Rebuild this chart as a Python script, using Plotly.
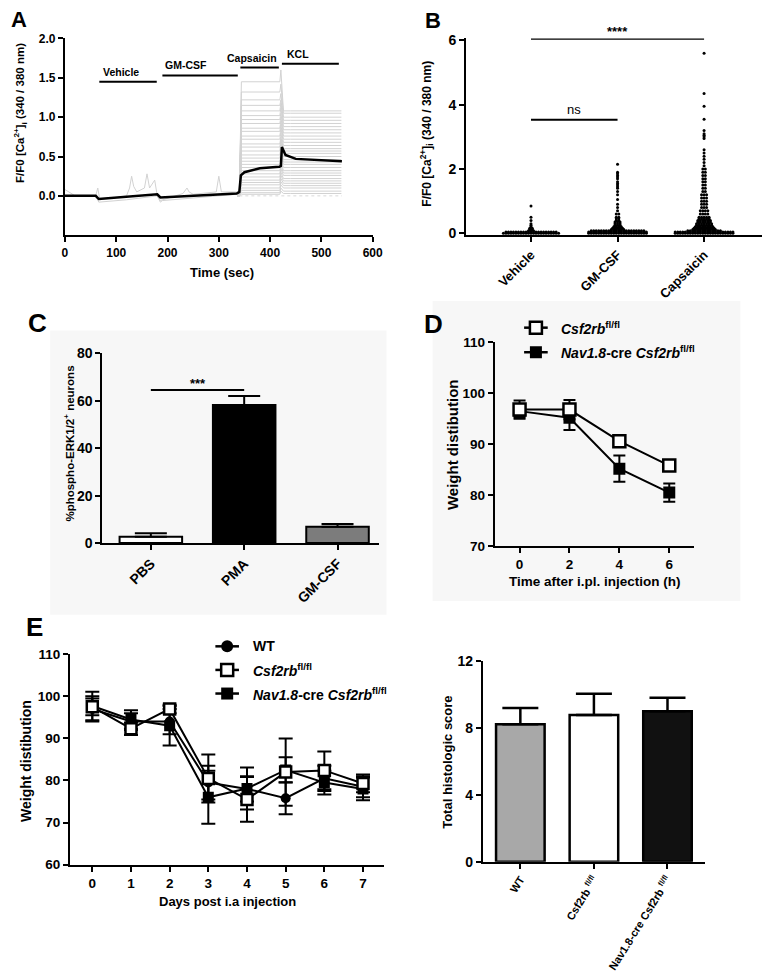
import plotly.graph_objects as go

W, H = 775, 973
FONT = "Liberation Sans"

# ---------------- Panel A : calcium traces ----------------
a_mean_t = [0, 60, 66, 120, 180, 186, 250, 335, 340, 343, 350, 380, 418, 421, 423, 430, 450, 500, 540]
a_mean_v = [0.0, 0.0, -0.04, -0.01, 0.02, -0.02, 0.0, 0.03, 0.05, 0.26, 0.30, 0.35, 0.37, 0.38, 0.62, 0.52, 0.47, 0.45, 0.44]
a_cap_levels = [1.45, 1.32, 1.22, 1.15, 1.08, 1.02, 0.97, 0.92, 0.86, 0.82, 0.76, 0.72, 0.66, 0.62, 0.57,
                0.52, 0.48, 0.44, 0.40, 0.36, 0.32, 0.28, 0.24, 0.20, 0.17, 0.14, 0.10, 0.07, 0.04, 0.02]
a_kcl_peak = [1.60, 1.42, 1.30, 1.22, 1.18, 1.12, 1.05, 1.00, 0.95, 0.90, 0.86, 0.80, 0.75, 0.72, 0.68,
              0.62, 0.58, 0.54, 0.50, 0.46, 0.42, 0.38, 0.34, 0.30, 0.26, 0.22, 0.18, 0.14, 0.10, 0.06]
a_kcl_levels = [1.08, 1.05, 1.00, 0.96, 0.92, 0.88, 0.84, 0.80, 0.76, 0.72, 0.68, 0.64, 0.60, 0.57, 0.54,
                0.50, 0.46, 0.43, 0.40, 0.36, 0.32, 0.29, 0.26, 0.22, 0.19, 0.16, 0.13, 0.10, 0.06, 0.03]
a_noise_t = [0, 20, 60, 64, 68, 120, 126, 130, 134, 140, 155, 160, 165, 170, 175, 180, 186, 230, 238, 242,
             250, 295, 300, 305, 335]
a_noise_v = [0.08, 0.0, 0.0, 0.10, -0.05, 0.0, 0.10, 0.25, 0.12, 0.05, 0.10, 0.28, 0.10, 0.15, 0.20, 0.0,
             -0.06, 0.03, 0.10, 0.05, 0.02, 0.05, 0.25, 0.05, 0.05]
a_dip_t = [60, 66, 120, 180, 186, 190, 335]
a_dip_v = [0.0, -0.08, -0.05, 0.0, -0.08, -0.06, 0.02]
a_stim_names = ["Vehicle", "GM-CSF", "Capsaicin", "KCL"]
a_stim_start = [67, 190, 342, 423]
a_stim_end = [179, 337, 417, 534]
a_stim_y = [1.45, 1.53, 1.63, 1.68]

# ---------------- Panel B : swarm ----------------
b_cats = ["Vehicle", "GM-CSF", "Capsaicin"]
b_veh_vals = [0.0, 0.04, 0.08, 0.12, 0.16, 0.20, 0.25, 0.30, 0.40, 0.50, 0.85]
b_veh_counts = [23, 21, 3, 2, 2, 1, 1, 1, 1, 1, 1]
b_gm_vals = [0.0, 0.04, 0.08, 0.12, 0.16, 0.20, 0.25, 0.30, 0.35, 0.40, 0.45, 0.50, 0.60, 0.70, 0.80,
             0.90, 1.05, 1.20, 1.30, 1.40, 1.45, 1.50, 1.55, 1.60, 1.70, 1.75, 1.80, 1.85, 1.90, 2.15]
b_gm_counts = [24, 24, 22, 6, 5, 4, 3, 3, 3, 2, 2, 2, 2, 1, 1, 1, 1, 1, 1, 1, 1, 1, 1, 1, 1, 1, 1, 1, 1, 1]
b_cap_vals = [0.0, 0.04, 0.08, 0.12, 0.16, 0.20, 0.25, 0.30, 0.35, 0.40, 0.45, 0.50, 0.60, 0.70, 0.80,
              0.90, 1.00, 1.10, 1.20, 1.30, 1.40, 1.50, 1.60, 1.70, 1.80, 1.90, 2.00, 2.10, 2.20, 2.30,
              2.40, 2.50, 2.60, 2.95, 3.00, 3.05, 3.10, 3.20, 3.55, 3.95, 4.35, 5.60]
b_cap_counts = [24, 24, 14, 10, 9, 8, 7, 7, 6, 6, 5, 5, 4, 4, 3, 3, 3, 3, 3, 2, 2, 2, 2, 2, 2, 2, 2,
                1, 1, 1, 1, 1, 1, 1, 1, 1, 1, 1, 1, 1, 1, 1]
b_sig_ns_y = 3.53
b_sig_all_y = 6.05

# ---------------- Panel C : bars ----------------
c_cats = ["PBS", "PMA", "GM-CSF"]
c_means = [2.7, 58.2, 6.9]
c_sem = [1.4, 3.8, 1.1]
c_sig_y = 64.5

# ---------------- Panel D ----------------
d_hours = [0, 2, 4, 6]
d_csf = [96.8, 96.8, 90.6, 85.8]
d_csf_err = [1.8, 1.9, 0.9, 0.9]
d_nav = [96.5, 95.2, 85.2, 80.5]
d_nav_err = [1.2, 2.4, 2.6, 1.8]

# ---------------- Panel E left ----------------
e_days = [0, 1, 2, 3, 4, 5, 6, 7]
e_wt = [97.0, 94.0, 94.0, 79.5, 78.0, 75.8, 80.5, 78.5]
e_wt_err = [3.0, 2.0, 3.0, 4.0, 3.0, 3.8, 3.0, 2.5]
e_csf = [97.5, 92.3, 97.0, 80.5, 75.5, 82.0, 82.4, 79.3]
e_csf_err = [2.0, 1.5, 1.0, 5.7, 5.3, 8.0, 4.5, 2.1]
e_nav = [97.7, 94.5, 93.0, 76.0, 78.1, 82.5, 79.5, 78.0]
e_nav_err = [3.4, 2.2, 4.7, 6.3, 5.0, 3.0, 2.8, 2.7]

# ---------------- Panel E right ----------------
f_cats = ["WT", "Csf2rb <sup>fl/fl</sup>", "Nav1.8-cre Csf2rb <sup>fl/fl</sup>"]
f_means = [8.22, 8.77, 9.0]
f_sem = [0.98, 1.28, 0.8]

# ======================================================================
fig = go.Figure()

def xdom(x0, x1):
    return [x0 / W, x1 / W]

def ydom(ytop, ybot):
    return [1 - ybot / H, 1 - ytop / H]

def tf(size):
    return dict(family=FONT, size=size, color="black", weight="bold")

def axis(**kw):
    d = dict(showline=True, linecolor="black", linewidth=2, ticks="outside", ticklen=5,
             tickwidth=2, tickcolor="black", showgrid=False, zeroline=False, fixedrange=True)
    d.update(kw)
    return d

# ---- Panel A traces
for cap, pk, kcl in zip(a_cap_levels, a_kcl_peak, a_kcl_levels):
    fig.add_trace(go.Scatter(
        x=[336, 340, 344, 360, 416, 419, 421, 426, 440, 539],
        y=[0.0, 0.0, cap, cap, cap, cap, pk, kcl, kcl, kcl],
        mode="lines", line=dict(color="#d2d2d2", width=1), xaxis="x", yaxis="y",
        hoverinfo="skip", showlegend=False))
fig.add_trace(go.Scatter(x=a_noise_t, y=a_noise_v, mode="lines", line=dict(color="#d2d2d2", width=1),
                         xaxis="x", yaxis="y", hoverinfo="skip", showlegend=False))
fig.add_trace(go.Scatter(x=a_dip_t, y=a_dip_v, mode="lines", line=dict(color="#d2d2d2", width=1),
                         xaxis="x", yaxis="y", hoverinfo="skip", showlegend=False))
fig.add_trace(go.Scatter(x=[340, 540], y=[0, 0], mode="lines", line=dict(color="#d8d8d8", width=1, dash="dot"),
                         xaxis="x", yaxis="y", hoverinfo="skip", showlegend=False))
fig.add_trace(go.Scatter(x=a_mean_t, y=a_mean_v, mode="lines", line=dict(color="black", width=2.5),
                         xaxis="x", yaxis="y", showlegend=False))
for nm, s, e, yv in zip(a_stim_names, a_stim_start, a_stim_end, a_stim_y):
    fig.add_trace(go.Scatter(x=[s, e], y=[yv, yv], mode="lines", line=dict(color="black", width=2),
                             xaxis="x", yaxis="y", showlegend=False, hoverinfo="skip"))
a_label_x = [70, 192, 417, 430]
a_label_anchor = ["left", "left", "right", "left"]
for nm, lx, anc, yv in zip(a_stim_names, a_label_x, a_label_anchor, a_stim_y):
    fig.add_annotation(x=lx, y=yv, xref="x", yref="y", text=nm, showarrow=False, xanchor=anc,
                       yanchor="bottom", yshift=2, font=tf(10.5))

# ---- Panel B swarm
def swarm(center, vals, counts, d):
    xs, ys = [], []
    for v, n in zip(vals, counts):
        for i in range(n):
            xs.append(center + (i - (n - 1) / 2) * d)
            ys.append(v)
    return xs, ys

for ci, (vals, cnts) in enumerate([(b_veh_vals, b_veh_counts), (b_gm_vals, b_gm_counts),
                                    (b_cap_vals, b_cap_counts)]):
    xs, ys = swarm(ci, vals, cnts, 0.029)
    fig.add_trace(go.Scatter(x=xs, y=ys, mode="markers", marker=dict(color="black", size=3),
                             xaxis="x2", yaxis="y2", showlegend=False, cliponaxis=False))
fig.add_trace(go.Scatter(x=[0, 1], y=[b_sig_ns_y] * 2, mode="lines", line=dict(color="black", width=2),
                         xaxis="x2", yaxis="y2", showlegend=False, hoverinfo="skip"))
fig.add_trace(go.Scatter(x=[0, 2], y=[b_sig_all_y] * 2, mode="lines", line=dict(color="black", width=2),
                         xaxis="x2", yaxis="y2", showlegend=False, hoverinfo="skip", cliponaxis=False))
fig.add_annotation(x=0.5, y=b_sig_ns_y, xref="x2", yref="y2", text="ns", showarrow=False,
                   yanchor="bottom", yshift=1, font=dict(family=FONT, size=13, color="black"))
fig.add_annotation(x=1, y=b_sig_all_y, xref="x2", yref="y2", text="****", showarrow=False,
                   yanchor="bottom", yshift=-2, font=tf(13))

# ---- Panel C bars
fig.add_trace(go.Bar(x=[0, 1, 2], y=c_means, width=0.67,
                     marker=dict(color=["white", "black", "#7c7c7c"], line=dict(color="black", width=2)),
                     error_y=dict(type="data", array=c_sem, arrayminus=[0, 0, 0], symmetric=False,
                                  color="black", thickness=2, width=16),
                     xaxis="x3", yaxis="y3", showlegend=False))
fig.add_trace(go.Scatter(x=[0, 1], y=[c_sig_y] * 2, mode="lines", line=dict(color="black", width=2),
                         xaxis="x3", yaxis="y3", showlegend=False, hoverinfo="skip"))
fig.add_annotation(x=0.5, y=c_sig_y, xref="x3", yref="y3", text="***", showarrow=False,
                   yanchor="bottom", yshift=-3, font=tf(13))

# ---- Panel D
fig.add_trace(go.Scatter(x=d_hours, y=d_nav, mode="lines+markers",
                         line=dict(color="black", width=2),
                         marker=dict(symbol="square", size=12, color="black"),
                         error_y=dict(type="data", array=d_nav_err, color="black", thickness=2, width=6),
                         xaxis="x4", yaxis="y4", showlegend=False))
fig.add_trace(go.Scatter(x=d_hours, y=d_csf, mode="lines+markers",
                         line=dict(color="black", width=2),
                         marker=dict(symbol="square", size=12, color="white", line=dict(color="black", width=2.5)),
                         error_y=dict(type="data", array=d_csf_err, color="black", thickness=2, width=6),
                         xaxis="x4", yaxis="y4", showlegend=False))

# ---- Panel E left
fig.add_trace(go.Scatter(x=e_days, y=e_wt, mode="lines+markers", line=dict(color="black", width=2),
                         marker=dict(symbol="circle", size=10, color="black"),
                         error_y=dict(type="data", array=e_wt_err, color="black", thickness=2, width=7),
                         xaxis="x5", yaxis="y5", showlegend=False))
fig.add_trace(go.Scatter(x=e_days, y=e_nav, mode="lines+markers", line=dict(color="black", width=2),
                         marker=dict(symbol="square", size=11, color="black"),
                         error_y=dict(type="data", array=e_nav_err, color="black", thickness=2, width=7),
                         xaxis="x5", yaxis="y5", showlegend=False))
fig.add_trace(go.Scatter(x=e_days, y=e_csf, mode="lines+markers", line=dict(color="black", width=2),
                         marker=dict(symbol="square", size=11, color="white", line=dict(color="black", width=2.5)),
                         error_y=dict(type="data", array=e_csf_err, color="black", thickness=2, width=7),
                         xaxis="x5", yaxis="y5", showlegend=False))

# ---- Panel E right
fig.add_trace(go.Bar(x=[0, 1, 2], y=f_means, width=0.66,
                     marker=dict(color=["#a8a8a8", "white", "#111111"], line=dict(color="black", width=2.5)),
                     error_y=dict(type="data", array=f_sem, arrayminus=[0, 0, 0], symmetric=False,
                                  color="black", thickness=2.5, width=18),
                     xaxis="x6", yaxis="y6", showlegend=False))

# ---- overlay (pixel space) legends
def legend_item(xc, y, symbol, fill, seg):
    fig.add_trace(go.Scatter(x=[xc - seg, xc + seg], y=[y, y], mode="lines",
                             line=dict(color="black", width=2.5), xaxis="x7", yaxis="y7",
                             showlegend=False, hoverinfo="skip"))
    mk = dict(symbol=symbol, size=12, color=fill)
    if fill == "white":
        mk["line"] = dict(color="black", width=2.5)
    fig.add_trace(go.Scatter(x=[xc], y=[y], mode="markers", marker=mk, xaxis="x7", yaxis="y7",
                             showlegend=False, hoverinfo="skip"))

legend_item(542, 325, "square", "white", 12)
legend_item(542, 350, "square", "black", 12)
fig.add_annotation(x=565, y=325, xref="x7", yref="y7", text="<i>Csf2rb</i><sup>fl/fl</sup>",
                   showarrow=False, xanchor="left", font=tf(14))
fig.add_annotation(x=565, y=350, xref="x7", yref="y7", text="<i>Nav1.8</i>-cre <i>Csf2rb</i><sup>fl/fl</sup>",
                   showarrow=False, xanchor="left", font=tf(14))

legend_item(228, 649, "circle", "black", 12)
legend_item(228, 673, "square", "white", 12)
legend_item(228, 697, "square", "black", 12)
fig.add_annotation(x=252, y=649, xref="x7", yref="y7", text="WT", showarrow=False, xanchor="left", font=tf(14))
fig.add_annotation(x=252, y=673, xref="x7", yref="y7", text="<i>Csf2rb</i><sup>fl/fl</sup>",
                   showarrow=False, xanchor="left", font=tf(14))
fig.add_annotation(x=252, y=697, xref="x7", yref="y7", text="<i>Nav1.8</i>-cre <i>Csf2rb</i><sup>fl/fl</sup>",
                   showarrow=False, xanchor="left", font=tf(14))

# ---- panel letters & axis titles (pixel space)
for txt, x, y, s in [("A", 16, 12, 22), ("B", 437, 13, 22), ("C", 35, 320, 26), ("D", 438, 321, 26),
                     ("E", 32, 629, 26)]:
    fig.add_annotation(x=x, y=y, xref="x7", yref="y7", text=txt, showarrow=False, font=tf(s))

ca_title = "F/F0 [Ca<sup>2+</sup>]<sub>i</sub> (340 / 380 nm)"
titles = [
    (ca_title, 18, 107, -90, 11.5),
    ("Time (sec)", 223, 269, 0, 13),
    (ca_title, 431, 128, -90, 12),
    ("%phospho-ERK1/2<sup>+</sup> neurons", 67, 443, -90, 11.5),
    ("Weight distibution", 457, 444, -90, 15),
    ("Time after i.pl. injection (h)", 602, 583, 0, 13.5),
    ("Weight distibution", 24, 766, -90, 14),
    ("Days post i.a injection", 228, 908, 0, 13),
    ("Total histologic score", 452, 767, -90, 13),
]
for txt, x, y, ang, s in titles:
    fig.add_annotation(x=x, y=y, xref="x7", yref="y7", text=txt, showarrow=False, textangle=ang, font=tf(s))

# faint background boxes (paper space, below everything)
for x0, y0, x1, y1 in [(48, 328, 390, 617), (437, 298, 750, 603)]:
    fig.add_shape(type="rect", x0=x0 / W, y0=1 - y1 / H, x1=x1 / W, y1=1 - y0 / H, xref="paper", yref="paper",
                  fillcolor="#f7f7f7", line=dict(width=0), layer="below")

fig.update_layout(
    width=W, height=H, margin=dict(l=0, r=0, t=0, b=0),
    paper_bgcolor="white", plot_bgcolor="rgba(0,0,0,0)",
    font=dict(family=FONT, color="black"),
    xaxis=axis(domain=xdom(63, 376), range=[0, 600], tickvals=[0, 100, 200, 300, 400, 500, 600],
               tickfont=tf(12), anchor="y"),
    yaxis=axis(domain=ydom(31, 231), range=[-0.5, 2.0], tickvals=[0, 0.5, 1.0, 1.5, 2.0],
               ticktext=["0.0", "0.5", "1.0", "1.5", "2.0"], tickfont=tf(12), anchor="x"),
    xaxis2=axis(domain=xdom(471, 772), range=[-0.75, 2.67], tickvals=[0, 1, 2], ticktext=b_cats,
                tickangle=-45, tickfont=tf(13), anchor="y2"),
    yaxis2=axis(domain=ydom(31, 231), range=[-0.06, 6.06], tickvals=[0, 2, 4, 6], tickfont=tf(14), anchor="x2"),
    xaxis3=axis(domain=xdom(101, 382), range=[-0.52, 2.44], tickvals=[0, 1, 2], ticktext=c_cats,
                tickangle=-45, tickfont=tf(14), anchor="y3"),
    yaxis3=axis(domain=ydom(351, 544), range=[0, 80], tickvals=[0, 20, 40, 60, 80], tickfont=tf(14), anchor="x3"),
    xaxis4=axis(domain=xdom(500, 703), range=[-1, 7], tickvals=[0, 2, 4, 6], tickfont=tf(13.5), anchor="y4"),
    yaxis4=axis(domain=ydom(340, 547), range=[70, 110], tickvals=[70, 80, 90, 100, 110], tickfont=tf(13.5),
                anchor="x4"),
    xaxis5=axis(domain=xdom(68, 387), range=[-0.58, 7.53], tickvals=e_days, tickfont=tf(13.5), anchor="y5"),
    yaxis5=axis(domain=ydom(657, 871), range=[60, 110], tickvals=[60, 70, 80, 90, 100, 110], tickfont=tf(13.5),
                anchor="x5"),
    xaxis6=axis(domain=xdom(488, 714), range=[-0.51, 2.51], tickvals=[0, 1, 2], ticktext=f_cats,
                tickangle=-58, tickfont=tf(11), anchor="y6"),
    yaxis6=axis(domain=ydom(664, 868), range=[0, 12], tickvals=[0, 4, 8, 12], tickfont=tf(14), anchor="x6"),
    xaxis7=dict(domain=[0, 1], range=[0, W], visible=False, fixedrange=True, anchor="y7"),
    yaxis7=dict(domain=[0, 1], range=[H, 0], visible=False, fixedrange=True, anchor="x7"),
)

fig.write_html("out.html", config={"displayModeBar": False},
               post_script="document.body.style.margin='0';document.body.style.overflow='hidden';")
